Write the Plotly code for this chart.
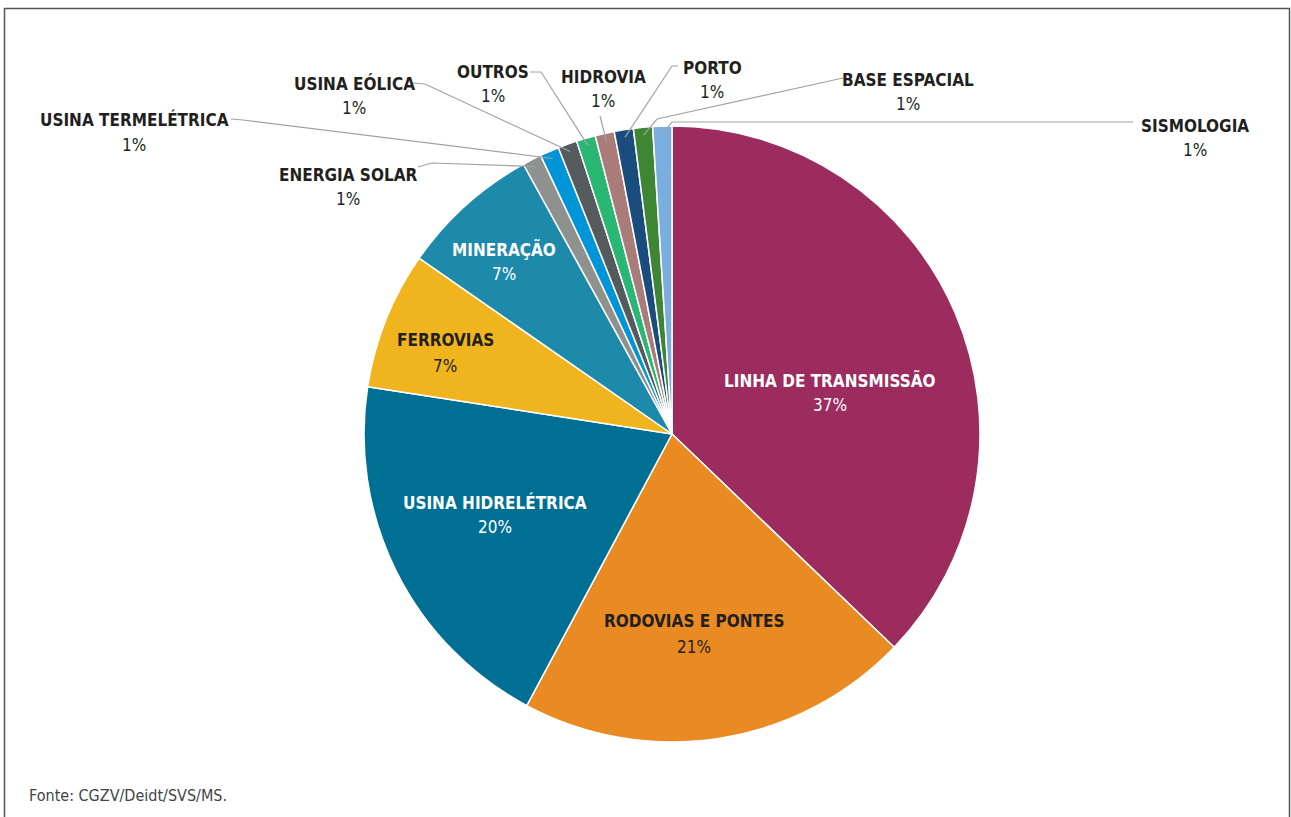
import math
import plotly.graph_objects as go

# Share of notifications by type of undertaking (%)
categorias = [
    "LINHA DE TRANSMISSÃO", "RODOVIAS E PONTES", "USINA HIDRELÉTRICA",
    "FERROVIAS", "MINERAÇÃO", "ENERGIA SOLAR", "USINA TERMELÉTRICA",
    "USINA EÓLICA", "OUTROS", "HIDROVIA", "PORTO", "BASE ESPACIAL",
    "SISMOLOGIA",
]
valores = [37.1, 20.6, 19.6, 7.2, 7.3, 1.0, 1.0, 1.0, 1.0, 1.0, 1.0, 1.0, 1.0]
fonte = "Fonte: CGZV/Deidt/SVS/MS."

cores = [
    "#9C2B5E", "#E98A22", "#006F94", "#F0B41E", "#1E8AAA", "#8F918F",
    "#0095D6", "#555A5C", "#2AB673", "#A97C7A", "#1A4C7E", "#3E8534",
    "#7AAEDF",
]

W, H = 1291, 817
CX, CY, R = 672, 434, 308          # pie centre and radius in pixels
FONT = "DejaVu Sans Condensed, Liberation Sans Narrow, sans-serif"
ESCURO = "#231F20"


def px(x, y):
    return x / W, 1 - y / H


# label placement: pixel centre x, name line y, percentage line y, colour
rotulos_dentro = {
    "LINHA DE TRANSMISSÃO": (830, 380, 405, "white"),
    "RODOVIAS E PONTES": (694, 621, 647, ESCURO),
    "USINA HIDRELÉTRICA": (495, 502, 527, "white"),
    "FERROVIAS": (445, 340, 366, ESCURO),
    "MINERAÇÃO": (504, 249, 274, "white"),
}
# outside labels: centre x, name y, percentage y, leader-line points
rotulos_fora = {
    "ENERGIA SOLAR": (348, 175, 199, [(418, 167), (432, 163)]),
    "USINA TERMELÉTRICA": (134, 120, 145, [(231, 119), (243, 120)]),
    "USINA EÓLICA": (354, 84, 108, [(413, 83), (425, 84)]),
    "OUTROS": (493, 72, 96, [(530, 72), (541, 72)]),
    "HIDROVIA": (603, 77, 101, [(600, 116)]),
    "PORTO": (712, 68, 92, [(678, 66), (672, 66)]),
    "BASE ESPACIAL": (908, 80, 104, [(843, 78), (657, 119)]),
    "SISMOLOGIA": (1195, 126, 150, [(1133, 122), (672, 122)]),
}

total = sum(valores)
x0, x1 = (CX - R) / W, (CX + R) / W
y0, y1 = 1 - (CY + R) / H, 1 - (CY - R) / H

fig = go.Figure(go.Pie(
    labels=categorias,
    values=valores,
    sort=False,
    direction="clockwise",
    rotation=0,
    marker=dict(colors=cores, line=dict(color="white", width=1.5)),
    textinfo="none",
    hovertemplate="%{label}: %{percent:.0%}<extra></extra>",
    domain=dict(x=[x0, x1], y=[y0, y1]),
    showlegend=False,
))

annotations = []
shapes = []


def rotulo(x, y, texto, cor, negrito):
    ax, ay = px(x, y)
    annotations.append(dict(
        x=ax, y=ay, xref="paper", yref="paper",
        text=f"<b>{texto}</b>" if negrito else texto,
        showarrow=False, xanchor="center", yanchor="middle",
        font=dict(family=FONT, size=17, color=cor),
    ))


acumulado = 0.0
for nome, v in zip(categorias, valores):
    frac = v / total
    meio = (acumulado + frac / 2) * 2 * math.pi
    acumulado += frac
    pct = f"{round(frac * 100):d}%"
    if nome in rotulos_dentro:
        lx, ny, py_, cor = rotulos_dentro[nome]
        rotulo(lx, ny, nome, cor, True)
        rotulo(lx, py_, pct, cor, False)
    else:
        lx, ny, py_, pontos = rotulos_fora[nome]
        rotulo(lx, ny, nome, ESCURO, True)
        rotulo(lx, py_, pct, ESCURO, False)
        # leader line ends inside the slice, at its mid-angle
        ex = CX + 0.975 * R * math.sin(meio)
        ey = CY - 0.975 * R * math.cos(meio)
        caminho = pontos + [(ex, ey)]
        d = ""
        for i, (qx, qy) in enumerate(caminho):
            pxx, pyy = px(qx, qy)
            d += ("M" if i == 0 else "L") + f"{pxx:.5f},{pyy:.5f} "
        shapes.append(dict(type="path", path=d.strip(), xref="paper",
                           yref="paper", line=dict(color="#A3A3A3", width=1.2)))

# source note
fx, fy = px(27, 795)
annotations.append(dict(
    x=fx, y=fy, xref="paper", yref="paper", text=fonte, showarrow=False,
    xanchor="left", yanchor="middle",
    font=dict(family=FONT, size=16, color="#444444"),
))

# outer frame (open at the bottom edge of the page)
bx0, by0 = px(4.5, 8.5)
bx1, _ = px(1289.5, 8.5)
shapes.append(dict(type="rect", xref="paper", yref="paper",
                   x0=bx0, x1=bx1, y0=-0.05, y1=by0,
                   line=dict(color="#555555", width=1.5), layer="above"))

fig.update_layout(
    width=W, height=H,
    margin=dict(l=0, r=0, t=0, b=0),
    paper_bgcolor="white", plot_bgcolor="white",
    annotations=annotations, shapes=shapes,
)

fig.write_html("out.html")
